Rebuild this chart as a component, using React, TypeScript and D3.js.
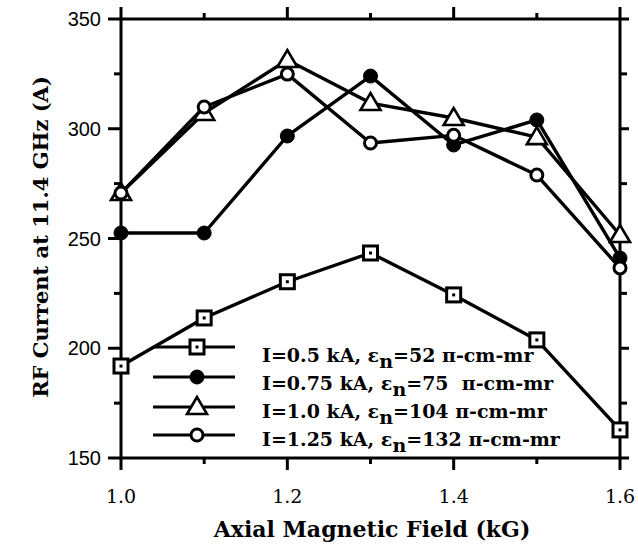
import React from "react";
import * as d3 from "d3";

const fields = [1.0, 1.1, 1.2, 1.3, 1.4, 1.5, 1.6];
const squareSeries = [191.9, 213.8, 230.3, 243.4, 224.3, 203.8, 162.8];
const filledSeries = [252.5, 252.5, 296.7, 324.0, 292.6, 304.0, 241.1];
const triangleSeries = [270.7, 307.2, 331.3, 311.7, 304.9, 296.2, 251.6];
const openSeries = [270.7, 309.9, 324.9, 293.5, 297.0, 278.9, 236.6];

const legendLabels = [
  { pre: "I=0.5 kA, ε", post: "=52 π-cm-mr" },
  { pre: "I=0.75 kA, ε", post: "=75  π-cm-mr" },
  { pre: "I=1.0 kA, ε", post: "=104 π-cm-mr" },
  { pre: "I=1.25 kA, ε", post: "=132 π-cm-mr" },
];
const markerKinds = ["square", "filled", "triangle", "open"];

const yMajor = [150, 200, 250, 300, 350];
const yMinor = [175, 225, 275, 325];
const xMajor = [1.0, 1.2, 1.4, 1.6];
const xMinor = [1.1, 1.3, 1.5];
const xTickLabels = ["1.0", "1.2", "1.4", "1.6"];

const W = 638;
const H = 549;
const L = 121, R = 620, T = 19, B = 458;

const x = d3.scaleLinear().domain([1.0, 1.6]).range([L, R]);
const y = d3.scaleLinear().domain([150, 350]).range([B, T]);

const SERIF = "'DejaVu Serif', 'Liberation Serif', serif";
const SANS = "'Liberation Sans', Arial, sans-serif";

function Marker({ kind, cx, cy }: { kind: string; cx: number; cy: number }) {
  if (kind === "square") {
    return (
      <g>
        <rect x={cx - 7} y={cy - 7} width={14} height={14} fill="#fff" stroke="#000" strokeWidth={3} />
        <rect x={cx - 1.5} y={cy - 1.5} width={3} height={3} fill="#000" />
      </g>
    );
  }
  if (kind === "filled") {
    return <circle cx={cx} cy={cy} r={7} fill="#000" stroke="#000" strokeWidth={1} />;
  }
  if (kind === "triangle") {
    const s = 10;
    const pts = `${cx},${cy - 10} ${cx - s},${cy + 7} ${cx + s},${cy + 7}`;
    return <polygon points={pts} fill="#fff" stroke="#000" strokeWidth={2.6} strokeLinejoin="miter" />;
  }
  return <circle cx={cx} cy={cy} r={6} fill="#fff" stroke="#000" strokeWidth={3} />;
}

export default function App() {
  const seriesList = [squareSeries, filledSeries, triangleSeries, openSeries];
  const line = d3
    .line<number>()
    .x((_, i) => x(fields[i]))
    .y((d) => y(d));

  const legendY = [347, 377, 407, 435];
  const legendTextY = [362, 390, 418, 446];

  return (
    <svg
      width={W}
      height={H}
      style={{ position: "absolute", left: 0, top: 0, background: "#fff" }}
    >
      <rect x={0} y={0} width={W} height={H} fill="#fff" />
      {/* frame */}
      <rect x={L} y={T} width={R - L} height={B - T} fill="none" stroke="#000" strokeWidth={3} />
      {/* left ticks */}
      {yMajor.map((v) => (
        <line key={"lm" + v} x1={L - 13} x2={L} y1={y(v)} y2={y(v)} stroke="#000" strokeWidth={3} />
      ))}
      {yMinor.map((v) => (
        <line key={"ln" + v} x1={L - 7} x2={L} y1={y(v)} y2={y(v)} stroke="#000" strokeWidth={3} />
      ))}
      {/* right ticks */}
      {yMajor.map((v) => (
        <line key={"rm" + v} x1={R} x2={R + 9} y1={y(v)} y2={y(v)} stroke="#000" strokeWidth={3} />
      ))}
      {yMinor.map((v) => (
        <line key={"rn" + v} x1={R} x2={R + 7} y1={y(v)} y2={y(v)} stroke="#000" strokeWidth={3} />
      ))}
      {/* top ticks */}
      {xMajor.map((v) => (
        <line key={"tm" + v} x1={x(v)} x2={x(v)} y1={T - 12} y2={T} stroke="#000" strokeWidth={3} />
      ))}
      {xMinor.map((v) => (
        <line key={"tn" + v} x1={x(v)} x2={x(v)} y1={T - 6} y2={T} stroke="#000" strokeWidth={3} />
      ))}
      {/* bottom ticks */}
      {xMajor.map((v) => (
        <line key={"bm" + v} x1={x(v)} x2={x(v)} y1={B} y2={B + 12} stroke="#000" strokeWidth={3} />
      ))}
      {xMinor.map((v) => (
        <line key={"bn" + v} x1={x(v)} x2={x(v)} y1={B} y2={B + 6} stroke="#000" strokeWidth={3} />
      ))}
      {/* y tick labels */}
      {yMajor.map((v) => (
        <text
          key={"yl" + v}
          x={L - 20}
          y={y(v) + 7}
          textAnchor="end"
          fontFamily={SANS}
          fontSize={20}
          fill="#000"
        >
          {v}
        </text>
      ))}
      {/* x tick labels */}
      {xMajor.map((v, i) => (
        <text
          key={"xl" + v}
          x={x(v)}
          y={503}
          textAnchor="middle"
          fontFamily={SERIF}
          fontSize={19}
          fill="#000"
        >
          {xTickLabels[i]}
        </text>
      ))}
      {/* axis titles */}
      <text
        x={372}
        y={537}
        textAnchor="middle"
        fontFamily={SERIF}
        fontWeight="bold"
        fontSize={22}
        fill="#000"
      >
        Axial Magnetic Field (kG)
      </text>
      <text
        transform={`translate(48, 237) rotate(-90)`}
        textAnchor="middle"
        fontFamily={SERIF}
        fontWeight="bold"
        fontSize={21}
        fill="#000"
      >
        RF Current at 11.4 GHz (A)
      </text>
      {/* series */}
      {seriesList.map((s, si) => (
        <g key={"s" + si}>
          <path d={line(s) || ""} fill="none" stroke="#000" strokeWidth={3.4} strokeLinejoin="round" />
          {s.map((v, i) => (
            <Marker key={i} kind={markerKinds[si]} cx={x(fields[i])} cy={y(v)} />
          ))}
        </g>
      ))}
      {/* legend */}
      {legendLabels.map((lab, i) => (
        <g key={"lg" + i}>
          <line x1={153} x2={235} y1={legendY[i]} y2={legendY[i]} stroke="#000" strokeWidth={3} />
          <Marker kind={markerKinds[i]} cx={197} cy={legendY[i]} />
          <text
            x={262}
            y={legendTextY[i]}
            fontFamily={SERIF}
            fontWeight="bold"
            fontSize={19}
            fill="#000"
            style={{ whiteSpace: "pre" }}
          >
            {lab.pre}
            <tspan dy={6}>n</tspan>
            <tspan dy={-6}>{lab.post}</tspan>
          </text>
        </g>
      ))}
    </svg>
  );
}
